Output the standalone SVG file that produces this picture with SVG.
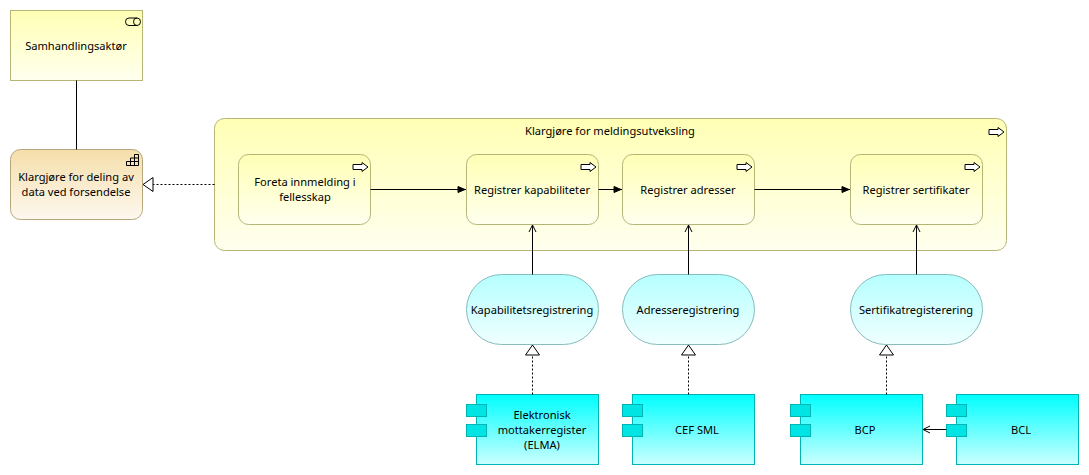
<svg xmlns="http://www.w3.org/2000/svg" width="1089" height="475" viewBox="0 0 1089 475">
<style>
text{font-family:"Noto Sans","Open Sans","DejaVu Sans",sans-serif;font-size:11.1px;fill:#000;text-anchor:middle}
.y{fill:url(#gy);stroke:#b5b578;stroke-width:1}
.b{fill:url(#gb);stroke:#b5a67c;stroke-width:1}
.s{fill:url(#gs);stroke:#86bcbc;stroke-width:1}
.c{fill:url(#gc);stroke:#00b4b4;stroke-width:1}
.t{fill:#00e4e4;stroke:#00b4b4;stroke-width:1}
.n{fill:none;stroke:#000;stroke-width:1}
.l{fill:none;stroke:#000;stroke-width:1}
.d{fill:none;stroke:#000;stroke-width:1;stroke-dasharray:2 2}
</style>
<defs>
<linearGradient id="gy" x1="0" y1="0" x2="0" y2="1"><stop offset="0" stop-color="#ffffb5"/><stop offset="1" stop-color="#ffffef"/></linearGradient>
<linearGradient id="gb" x1="0" y1="0" x2="0" y2="1"><stop offset="0" stop-color="#f5deaa"/><stop offset="1" stop-color="#fdf8ef"/></linearGradient>
<linearGradient id="gs" x1="0" y1="0" x2="0" y2="1"><stop offset="0" stop-color="#b5ffff"/><stop offset="1" stop-color="#f0ffff"/></linearGradient>
<linearGradient id="gc" x1="0" y1="0" x2="0" y2="1"><stop offset="0" stop-color="#00ffff"/><stop offset="1" stop-color="#ccffff"/></linearGradient>
<marker id="fill" markerUnits="userSpaceOnUse" markerWidth="10" markerHeight="10" refX="9" refY="4" orient="auto"><path d="M1,1 L8,4 L1,7 Z" fill="#000" stroke="#000"/></marker>
<marker id="open" markerUnits="userSpaceOnUse" markerWidth="10" markerHeight="12" refX="8" refY="6" orient="auto"><path d="M1,2.5 L8,6 L1,9.5" fill="none" stroke="#000"/></marker>
<marker id="tri" markerUnits="userSpaceOnUse" markerWidth="12" markerHeight="16" refX="11" refY="8" orient="auto"><path d="M1,1 L11,8 L1,15 Z" fill="#fff" stroke="#000"/></marker>
<path id="arr" d="M0,2 H9 V0 L15,4.5 L9,9 V7 H0 Z" fill="#fff" stroke="#000"/>
</defs>
<g id="samhandlingsaktor">
<rect class="y" x="10.5" y="10.5" width="132" height="70"/>
<path class="n" d="M129,18 H137 A3.5,3.75 0 0 1 137,25.5 H129 A3.5,3.75 0 0 1 129,18 Z M137,18 A3.5,3.75 0 0 0 137,25.5"/>
<text x="76" y="50">Samhandlingsaktør</text>
</g>
<g id="klargjore-deling">
<rect class="b" x="10.5" y="149.5" width="132" height="70" rx="10" ry="10"/>
<path class="n" d="M126.5,165.5 H138.5 V154.5 H134.5 V165.5 M126.5,165.5 V161.5 H138.5 M130.5,165.5 V158 H138.5"/>
<text x="76" y="181">Klargjøre for deling av</text>
<text x="76" y="196">data ved forsendelse</text>
</g>
<g id="klargjore-meldingsutveksling">
<rect class="y" x="214.5" y="118.5" width="792" height="132" rx="10" ry="10"/>
<use href="#arr" x="989" y="127.5"/>
<text x="610" y="135">Klargjøre for meldingsutveksling</text>
</g>
<g id="foreta-innmelding">
<rect class="y" x="238.5" y="154.5" width="132" height="70" rx="10" ry="10"/>
<use href="#arr" x="353" y="162.5"/>
<text x="305" y="186">Foreta innmelding i</text>
<text x="305" y="201">fellesskap</text>
</g>
<g id="registrer-kapabiliteter">
<rect class="y" x="466.5" y="154.5" width="132" height="70" rx="10" ry="10"/>
<use href="#arr" x="581" y="162.5"/>
<text x="532" y="194">Registrer kapabiliteter</text>
</g>
<g id="registrer-adresser">
<rect class="y" x="622.5" y="154.5" width="132" height="70" rx="10" ry="10"/>
<use href="#arr" x="737" y="162.5"/>
<text x="688" y="194">Registrer adresser</text>
</g>
<g id="registrer-sertifikater">
<rect class="y" x="850.5" y="154.5" width="132" height="70" rx="10" ry="10"/>
<use href="#arr" x="965" y="162.5"/>
<text x="916" y="194">Registrer sertifikater</text>
</g>
<g id="kapabilitetsregistrering">
<rect class="s" x="466.5" y="274.5" width="132" height="70" rx="35" ry="35"/>
<text x="532" y="314">Kapabilitetsregistrering</text>
</g>
<g id="adresseregistrering">
<rect class="s" x="622.5" y="274.5" width="132" height="70" rx="35" ry="35"/>
<text x="688" y="314">Adresseregistrering</text>
</g>
<g id="sertifikatregisterering">
<rect class="s" x="850.5" y="274.5" width="132" height="70" rx="35" ry="35"/>
<text x="916" y="314">Sertifikatregisterering</text>
</g>
<g id="elma">
<rect class="c" x="476.5" y="394.5" width="122" height="70"/>
<rect class="t" x="466.5" y="404.5" width="20" height="12"/>
<rect class="t" x="466.5" y="424.5" width="20" height="12"/>
<text x="542" y="419">Elektronisk</text>
<text x="542" y="434">mottakerregister</text>
<text x="542" y="449">(ELMA)</text>
</g>
<g id="cef-sml">
<rect class="c" x="632.5" y="394.5" width="122" height="70"/>
<rect class="t" x="622.5" y="404.5" width="20" height="12"/>
<rect class="t" x="622.5" y="424.5" width="20" height="12"/>
<text x="697" y="434">CEF SML</text>
</g>
<g id="bcp">
<rect class="c" x="800.5" y="394.5" width="122" height="70"/>
<rect class="t" x="790.5" y="404.5" width="20" height="12"/>
<rect class="t" x="790.5" y="424.5" width="20" height="12"/>
<text x="865" y="434">BCP</text>
</g>
<g id="bcl">
<rect class="c" x="956.5" y="394.5" width="122" height="70"/>
<rect class="t" x="946.5" y="404.5" width="20" height="12"/>
<rect class="t" x="946.5" y="424.5" width="20" height="12"/>
<text x="1021" y="434">BCL</text>
</g>
<g id="connectors">
<path class="l" d="M76.5,80.5 V149.5"/>
<path class="d" d="M214.5,184.5 H143" marker-end="url(#tri)"/>
<path class="l" d="M370.5,189.5 H466" marker-end="url(#fill)"/>
<path class="l" d="M598.5,189.5 H622" marker-end="url(#fill)"/>
<path class="l" d="M754.5,189.5 H850" marker-end="url(#fill)"/>
<path class="l" d="M532.5,274.5 V225" marker-end="url(#open)"/>
<path class="l" d="M688.5,274.5 V225" marker-end="url(#open)"/>
<path class="l" d="M916.5,274.5 V225" marker-end="url(#open)"/>
<path class="d" d="M532.5,394.5 V345" marker-end="url(#tri)"/>
<path class="d" d="M688.5,394.5 V345" marker-end="url(#tri)"/>
<path class="d" d="M886.5,394.5 V345" marker-end="url(#tri)"/>
<path class="l" d="M946.5,429.5 H923" marker-end="url(#open)"/>
</g>
</svg>
